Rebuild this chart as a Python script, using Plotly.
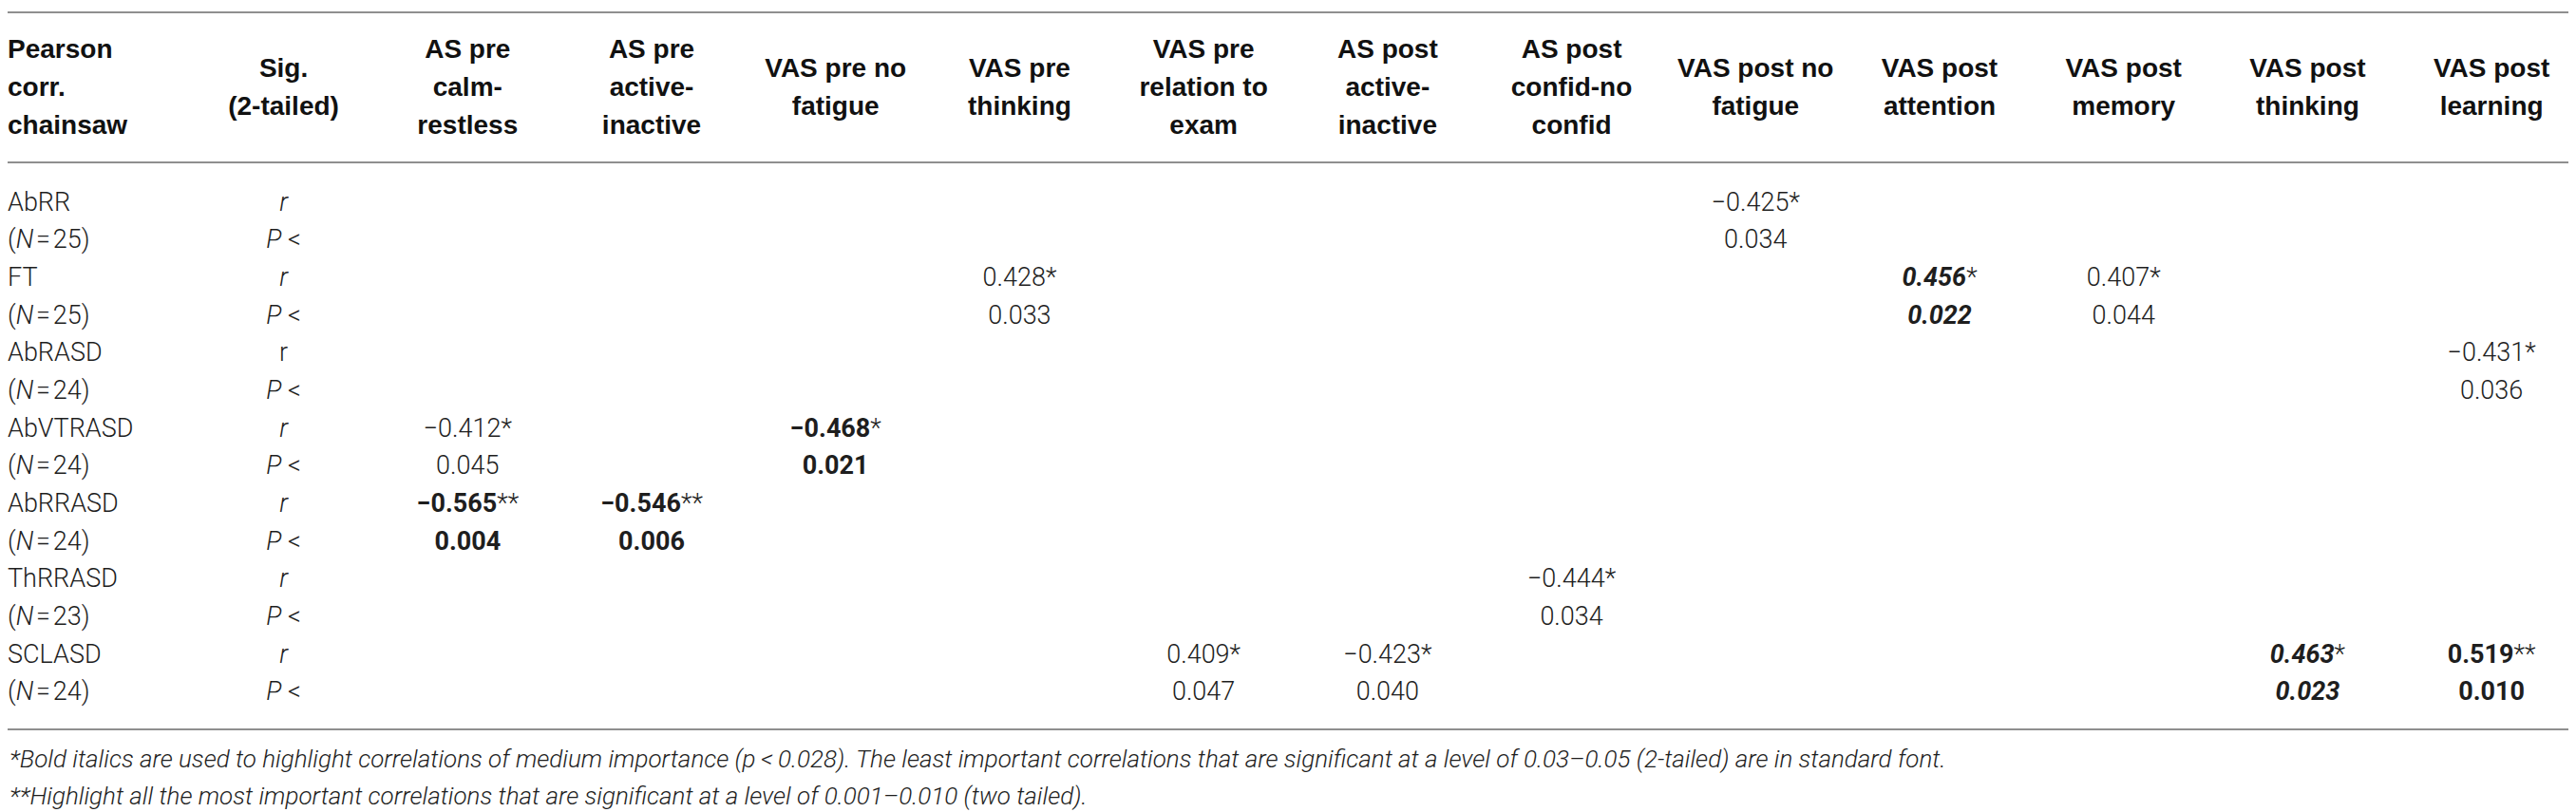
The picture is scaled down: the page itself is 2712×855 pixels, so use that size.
import plotly.graph_objects as go

# ---------------- data ----------------
row_labels = ["AbRR", "(<i>N</i>\u200a=\u200a25)", "FT", "(<i>N</i>\u200a=\u200a25)",
              "AbRASD", "(<i>N</i>\u200a=\u200a24)", "AbVTRASD", "(<i>N</i>\u200a=\u200a24)",
              "AbRRASD", "(<i>N</i>\u200a=\u200a24)", "ThRRASD", "(<i>N</i>\u200a=\u200a23)",
              "SCLASD", "(<i>N</i>\u200a=\u200a24)"]
sig_labels = ["<i>r</i>", "<i>P</i> <", "<i>r</i>", "<i>P</i> <", "r", "<i>P</i> <",
              "<i>r</i>", "<i>P</i> <", "<i>r</i>", "<i>P</i> <", "<i>r</i>", "<i>P</i> <",
              "<i>r</i>", "<i>P</i> <"]
header_first = ["Pearson", "corr.", "chainsaw"]
header_sig = ["Sig.", "(2-tailed)"]
column_headers = [["AS pre", "calm-", "restless"], ["AS pre", "active-", "inactive"],
                  ["VAS pre no", "fatigue"], ["VAS pre", "thinking"],
                  ["VAS pre", "relation to", "exam"], ["AS post", "active-", "inactive"],
                  ["AS post", "confid-no", "confid"], ["VAS post no", "fatigue"],
                  ["VAS post", "attention"], ["VAS post", "memory"],
                  ["VAS post", "thinking"], ["VAS post", "learning"]]

# significant cells: variable index (0..6), column index (0..11)
cell_var = [0, 1, 1, 1, 2, 3, 3, 4, 4, 5, 6, 6, 6, 6]
cell_col = [7, 3, 8, 9, 11, 0, 2, 0, 1, 6, 4, 5, 10, 11]
cell_r = ["\u22120.425", "0.428", "0.456", "0.407", "\u22120.431", "\u22120.412", "\u22120.468",
          "\u22120.565", "\u22120.546", "\u22120.444", "0.409", "\u22120.423", "0.463", "0.519"]
cell_stars = ["*", "*", "*", "*", "*", "*", "*", "**", "**", "*", "*", "*", "*", "**"]
cell_p = ["0.034", "0.033", "0.022", "0.044", "0.036", "0.045", "0.021",
          "0.004", "0.006", "0.034", "0.047", "0.040", "0.023", "0.010"]
cell_style = ["plain", "plain", "bolditalic", "plain", "plain", "plain", "bold",
              "bold", "bold", "plain", "plain", "plain", "bolditalic", "bold"]

footnotes = [
    "*Bold italics are used to highlight correlations of medium importance (p\u2009<\u20090.028). "
    "The least important correlations that are significant at a level of 0.03\u20130.05 (2-tailed) are in standard font.",
    "**Highlight all the most important correlations that are significant at a level of 0.001\u20130.010 (two tailed).",
]

# ---------------- layout constants ----------------
W, H = 2712, 855
ROW_STEP = 39.65      # px per row
FIRST_ROW_PX = 207    # centre of first data row
HEADER_PX = 86        # centre of header block
LINE_GAP = 40         # header line spacing px
RULES_PX = [5, 163, 760]
FOOT_PX = [791, 830]
TXT = "#1e1e1e"
RULE = "#8f8f8f"
LIGHT = "Roboto"
BOLD = "Liberation Sans"
DATA_SIZE = 27


def styl(v, s):
    if s == "bold":
        return "<b>" + v + "</b>"
    if s == "bolditalic":
        return "<b><i>" + v + "</i></b>"
    return v


fig = go.Figure()

n_rows = len(row_labels)
ys = list(range(n_rows))

# first column (left aligned)
fig.add_trace(go.Scatter(x=[-0.5] * n_rows, y=ys, mode="text", text=row_labels,
                         textposition="middle right",
                         textfont=dict(family=LIGHT, size=DATA_SIZE, color=TXT, weight=300),
                         hoverinfo="skip", showlegend=False))
# sig column
fig.add_trace(go.Scatter(x=[1] * n_rows, y=ys, mode="text", text=sig_labels,
                         textposition="middle center",
                         textfont=dict(family=LIGHT, size=DATA_SIZE, color=TXT, weight=300),
                         hoverinfo="skip", showlegend=False))

# cells
cx, cy, ct = [], [], []
for v, c, r, st, p, s in zip(cell_var, cell_col, cell_r, cell_stars, cell_p, cell_style):
    cx += [c + 2, c + 2]
    cy += [2 * v, 2 * v + 1]
    ct += [styl(r, s) + st, styl(p, s)]
fig.add_trace(go.Scatter(x=cx, y=cy, mode="text", text=ct, textposition="middle center",
                         textfont=dict(family=LIGHT, size=DATA_SIZE, color=TXT, weight=300),
                         hoverinfo="skip", showlegend=False))

# header
hk = (HEADER_PX - FIRST_ROW_PX) / ROW_STEP
lg = LINE_GAP / ROW_STEP
hx, hy, ht, lx, ly, lt = [], [], [], [], [], []
for i, line in enumerate(header_first):
    lx.append(-0.5)
    ly.append(hk + (i - (len(header_first) - 1) / 2) * lg)
    lt.append(line)
all_heads = [header_sig] + column_headers
for j, lines in enumerate(all_heads):
    for i, line in enumerate(lines):
        hx.append(j + 1)
        hy.append(hk + (i - (len(lines) - 1) / 2) * lg)
        ht.append(line)
fig.add_trace(go.Scatter(x=lx, y=ly, mode="text", text=lt, textposition="middle right",
                         textfont=dict(family=BOLD, size=28, color="#111", weight="bold"),
                         hoverinfo="skip", showlegend=False))
fig.add_trace(go.Scatter(x=hx, y=hy, mode="text", text=ht, textposition="middle center",
                         textfont=dict(family=BOLD, size=28, color="#111", weight="bold"),
                         hoverinfo="skip", showlegend=False))

for p in RULES_PX:
    fig.add_shape(type="line", xref="paper", yref="paper", x0=0, x1=1,
                  y0=1 - p / H, y1=1 - p / H, line=dict(color=RULE, width=2))

for p, t in zip(FOOT_PX, footnotes):
    fig.add_annotation(xref="paper", yref="paper", x=0, y=1 - p / H, xanchor="left",
                       yanchor="middle", showarrow=False, text="<i>" + t + "</i>",
                       font=dict(family=LIGHT, size=26, color=TXT, weight=300))

fig.update_layout(
    width=W, height=H, margin=dict(l=0, r=0, t=0, b=0),
    paper_bgcolor="white", plot_bgcolor="white",
    xaxis=dict(range=[-0.5, 13.5], visible=False, fixedrange=True),
    yaxis=dict(range=[(H - FIRST_ROW_PX) / ROW_STEP, -FIRST_ROW_PX / ROW_STEP],
               visible=False, fixedrange=True),
)

fig.write_html("out.html")
